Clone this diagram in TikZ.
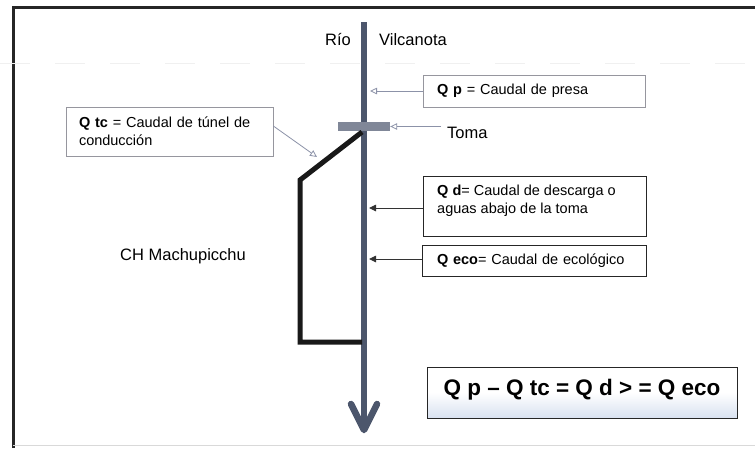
\documentclass[tikz,border=0pt]{standalone}
\usepackage{fontspec}
\setmainfont{Liberation Sans}
\usetikzlibrary{arrows.meta}
\definecolor{riverc}{RGB}{76,86,108}
\definecolor{barc}{RGB}{128,135,152}
\definecolor{garr}{RGB}{140,146,168}
\definecolor{lbox}{RGB}{150,150,158}
\definecolor{eqfill}{RGB}{216,225,240}
\begin{document}
\begin{tikzpicture}[x=1pt,y=-1pt,
  lbl/.style={font=\fontsize{16.5}{19}\selectfont, inner sep=0pt},
  boxtxt/.style={font=\fontsize{14.5}{18}\selectfont, align=left},
  lightbox/.style={draw=lbox, line width=0.7pt, boxtxt, inner ysep=0pt},
  darkbox/.style={draw=black!85, line width=0.9pt, boxtxt, inner ysep=0pt},
  garrow/.style={draw=garr, line width=0.8pt, -{Triangle[open, length=7pt, width=6.5pt]}},
  darrow/.style={draw=black!80, line width=0.9pt, -{Triangle[length=7pt, width=6.5pt]}},
  river/.style={draw=riverc, line width=5.5pt},
  tunnel/.style={draw=black!90, line width=5pt, line join=miter}
]
\useasboundingbox (0,0) rectangle (755,448);
\fill[white] (0,0) rectangle (755,448);
% frame
\draw[line width=3pt, black!85] (13,448) -- (13,7) -- (755,7);
\draw[gray!30, line width=1pt] (13,445) -- (755,445);
\draw[gray!12, line width=0.8pt, dash pattern=on 30pt off 25pt] (0,63) -- (755,63);

% river
\coordinate (rtop) at (364,22);
\coordinate (rbot) at (364,430);
\draw[river] (rtop) -- (rbot);
\draw[river, line width=6.5pt, line join=round, line cap=round] (rbot) ++(-13,-26) -- (rbot) -- ++(13,-26);

% intake bar
\node[fill=barc, minimum width=52pt, minimum height=9pt, inner sep=0pt] (bar) at (364,126.5) {};

% tunnel
\coordinate (t1) at (362,132);
\coordinate (t2) at (300,180);
\coordinate (t3) at (300,342);
\coordinate (t4) at (362,342);
\draw[tunnel] (t1) -- (t2) -- (t3) -- (t4);

% labels
\node[lbl, anchor=base east] (rio) at (351,45) {Río};
\node[lbl, anchor=base west] (vil) at (379,45) {Vilcanota};
\node[lbl, anchor=base west] (toma) at (447,138) {Toma};
\node[lbl, anchor=base west] (ch) at (120,260) {CH Machupicchu};

% boxes
\node[lightbox, minimum width=222pt, minimum height=32pt, text width=194pt, inner xsep=14pt] (qp) at (534,91) {\textbf{Q p} = Caudal de presa};
\node[lightbox, minimum width=207pt, minimum height=49pt, text width=181pt, inner xsep=13pt] (qtc) at (169.5,131.5) {\textbf{Q tc} = Caudal de túnel de\\conducción};
\node[darkbox, minimum width=223pt, minimum height=60pt, inner sep=0pt] (qd) at (534.5,206) {};
\node[boxtxt, anchor=west, inner sep=0pt] (qdtext) at (437,201) {\textbf{Q d}= Caudal de descarga o\\aguas abajo de la toma};
\node[darkbox, minimum width=224pt, minimum height=31pt, text width=194pt, inner xsep=15pt] (qeco) at (534,260.5) {\textbf{Q eco}= Caudal de ecológico};
\node[draw=black!85, line width=0.9pt, top color=white, bottom color=eqfill, middle color=white,
      minimum width=310pt, minimum height=51pt, inner sep=0pt,
      text height=16pt, text depth=11pt,
      font=\fontsize{22.5}{26}\selectfont\bfseries] (eq) at (582,392.5) {Q p – Q tc = Q d > = Q eco};

% connectors
\coordinate (qtcend) at (317,157);
\draw[garrow] ([yshift=5.5pt]qtc.east) -- (qtcend);
\draw[garrow] (qp.west) -- ([xshift=6pt]qp.west -| rtop);
\draw[garrow] ([xshift=-6pt]toma.west |- bar.east) -- (bar.east);
\draw[darrow] ([yshift=-2pt]qd.west) -- ([xshift=5pt,yshift=-2pt]qd.west -| rtop);
\draw[darrow] ([yshift=1.5pt]qeco.west) -- ([xshift=5pt,yshift=1.5pt]qeco.west -| rtop);
\end{tikzpicture}
\end{document}
